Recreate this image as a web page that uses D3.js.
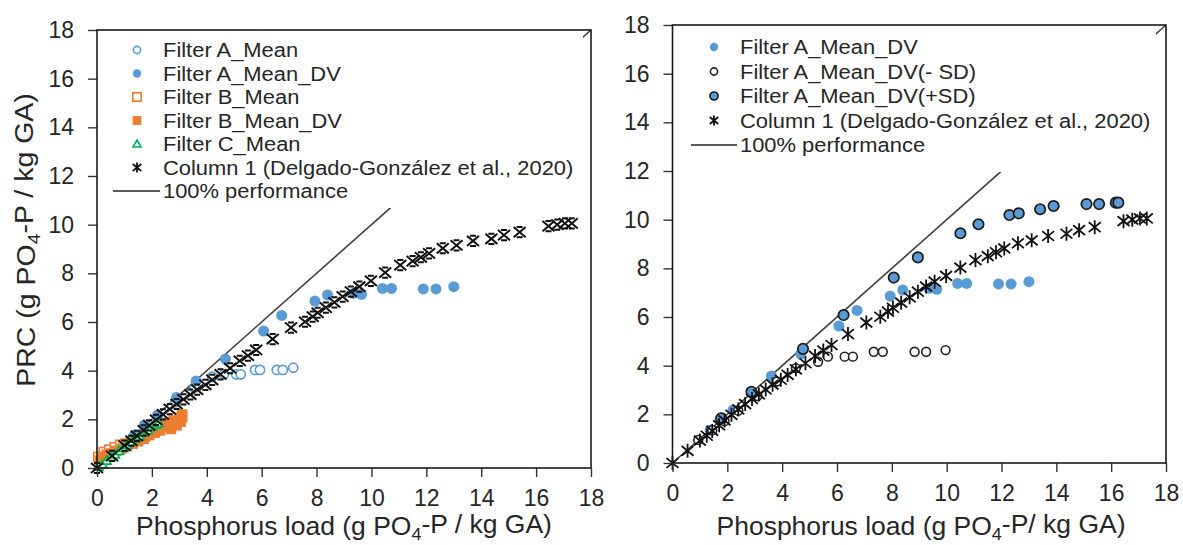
<!DOCTYPE html>
<html>
<head>
<meta charset="utf-8">
<style>
  body { margin: 0; background: #fff; }
  text { font-family: "Liberation Sans", Arial, sans-serif; fill: #262626; }
</style>
</head>
<body>
<div id="chart"></div>
<script src="https://d3js.org/d3.v7.min.js"></script>
<script>
// ---- data ----
const xTicks = [0, 2, 4, 6, 8, 10, 12, 14, 16, 18];
const yTicks = [0, 2, 4, 6, 8, 10, 12, 14, 16, 18];
const perfLine = [[0, 0], [18, 18]];

// Column 1 (Delgado-González et al., 2020), shared by both panels
const column1 = [[0,0],[0.55,0.5],[1.0,0.92],[1.25,1.12],[1.45,1.32],[1.7,1.55],[1.9,1.75],[2.15,1.98],
  [2.4,2.2],[2.65,2.42],[2.9,2.63],[3.15,2.82],[3.4,3.02],[3.65,3.22],[3.95,3.42],[4.2,3.62],
  [4.5,3.85],[4.85,4.1],[5.2,4.4],[5.5,4.62],[5.8,4.85],[6.4,5.3],[7.07,5.77],[7.58,6.01],
  [7.86,6.22],[8.04,6.38],[8.34,6.59],[8.65,6.81],[8.95,7.04],[9.25,7.25],[9.56,7.45],[9.98,7.69],
  [10.5,8.03],[11.05,8.34],[11.5,8.5],[11.8,8.66],[12.1,8.82],[12.6,9.03],[13.1,9.15],[13.7,9.33],
  [14.37,9.42],[14.83,9.57],[15.4,9.69],[16.45,9.94],[16.77,10.0],[17.05,10.05],[17.3,10.05]];

const filterAMean = [[1.3,1.25],[1.75,1.65],[2.2,2.05],[2.85,2.7],[3.55,3.3],[4.2,3.75],[4.63,3.85],
  [5.07,3.85],[5.24,3.85],[5.76,4.03],[5.94,4.03],[6.55,4.03],[6.77,4.03],[7.15,4.12]];

const filterAMeanDV = [[1.37,1.36],[1.73,1.77],[2.21,2.18],[2.9,2.9],[3.61,3.58],[4.68,4.48],[6.07,5.63],
  [6.73,6.27],[7.94,6.86],[8.4,7.11],[9.35,7.18],[9.64,7.14],[10.4,7.38],[10.73,7.38],[11.89,7.36],
  [12.35,7.36],[13.0,7.45]];

const filterBMean = [[0.05,0.45],[0.25,0.65],[0.45,0.75],[0.65,0.85],[0.85,0.95],[1.05,1.0],[1.25,1.1],
  [1.5,1.2],[1.75,1.3],[2.0,1.45],[2.2,1.55],[2.4,1.7],[2.6,1.8],[2.8,1.9],[3.0,2.0],[3.1,2.1]];

const filterBMeanDV = [[0.1,0.3],[0.2,0.45],[0.35,0.55],[0.5,0.6],[0.7,0.7],[0.9,0.8],[1.1,0.9],[1.3,1.0],
  [1.5,1.1],[1.7,1.2],[1.9,1.35],[2.1,1.45],[2.3,1.55],[2.4,1.7],[2.5,1.75],[2.6,1.85],[2.7,1.6],
  [2.8,1.95],[2.9,1.75],[3.0,2.05],[3.05,1.9],[3.1,2.2]];

const filterCMean = [[0.05,0.05],[0.2,0.15],[0.35,0.3],[0.5,0.45],[0.65,0.55],[0.8,0.7],[0.95,0.82],
  [1.1,0.95],[1.25,1.08],[1.4,1.2],[1.55,1.3],[1.7,1.45],[1.85,1.55],[2.0,1.68],[2.15,1.78],[2.25,1.85]];

const filterAMinusSD = [[0.94,0.95],[1.45,1.35],[1.9,1.72],[2.4,2.15],[3.1,2.75],[3.8,3.35],[4.5,3.9],
  [5.31,4.16],[5.67,4.37],[6.28,4.37],[6.58,4.37],[7.34,4.57],[7.67,4.57],[8.83,4.57],[9.25,4.57],[9.96,4.64]];

const filterAPlusSD = [[1.78,1.84],[2.88,2.93],[4.76,4.69],[6.24,6.08],[8.07,7.62],[8.95,8.45],
  [10.5,9.44],[11.16,9.81],[12.29,10.19],[12.63,10.26],[13.41,10.43],[13.9,10.56],[15.1,10.64],
  [15.56,10.64],[16.17,10.7],[16.26,10.7]];

const BLUE = "#5B9BD5", ORANGE = "#ED7D31", GREEN = "#00B050";

const svg = d3.select("#chart").append("svg")
  .attr("width", 1183).attr("height", 545);

// marker drawing helpers
function marker(g, kind, x, y, s) {
  if (kind === "openCircle") {
    g.append("circle").attr("cx", x).attr("cy", y).attr("r", s)
      .attr("fill", "#fff").attr("stroke", BLUE).attr("stroke-width", 1.6);
  } else if (kind === "blueDot") {
    g.append("circle").attr("cx", x).attr("cy", y).attr("r", s).attr("fill", BLUE);
  } else if (kind === "blackRing") {
    g.append("circle").attr("cx", x).attr("cy", y).attr("r", s)
      .attr("fill", "#fff").attr("stroke", "#222").attr("stroke-width", 1.6);
  } else if (kind === "plusSD") {
    g.append("circle").attr("cx", x).attr("cy", y).attr("r", s)
      .attr("fill", BLUE).attr("stroke", "#1a1a1a").attr("stroke-width", 1.7);
  } else if (kind === "openSquare") {
    g.append("rect").attr("x", x - s).attr("y", y - s).attr("width", 2 * s).attr("height", 2 * s)
      .attr("fill", "#fff").attr("stroke", ORANGE).attr("stroke-width", 1.6);
  } else if (kind === "fillSquare") {
    g.append("rect").attr("x", x - s).attr("y", y - s).attr("width", 2 * s).attr("height", 2 * s)
      .attr("fill", ORANGE);
  } else if (kind === "triangle") {
    g.append("path").attr("d", `M${x},${y - s}L${x + s},${y + s * 0.75}L${x - s},${y + s * 0.75}Z`)
      .attr("fill", "#fff").attr("stroke", GREEN).attr("stroke-width", 1.6);
  } else if (kind === "hourglass") {
    const w = s, h = s * 0.85;
    g.append("path")
      .attr("d", `M${x - w},${y - h}L${x + w},${y + h}M${x + w},${y - h}L${x - w},${y + h}` +
                 `M${x - w * 0.5},${y - h}L${x + w * 0.5},${y - h}M${x - w * 0.5},${y + h}L${x + w * 0.5},${y + h}`)
      .attr("stroke", "#111").attr("stroke-width", 2).attr("fill", "none");
  } else if (kind === "star") {
    const w = s * 0.85, h = s;
    g.append("path")
      .attr("d", `M${x - w},${y - h * 0.7}L${x + w},${y + h * 0.7}M${x + w},${y - h * 0.7}L${x - w},${y + h * 0.7}M${x},${y - h}L${x},${y + h}`)
      .attr("stroke", "#111").attr("stroke-width", 1.8).attr("fill", "none");
  }
}

function addParts(t, parts) {
  // parts: [[text, isSub], ...]
  let prevSub = false;
  parts.forEach(([s, sub]) => {
    const ts = t.append("tspan").text(s);
    if (sub) { ts.attr("font-size", "0.68em").attr("dy", "0.3em"); }
    else if (prevSub) { ts.attr("dy", "-0.3em"); }
    prevSub = sub;
  });
}

// text widened a little along its length, placed at (x, y)
function sText(g, x, y, size, widen, rotate) {
  const tr = rotate ? `translate(${x},${y}) rotate(-90) scale(${widen},1)`
                    : `translate(${x},${y}) scale(${widen},1)`;
  return g.append("text").attr("transform", tr).attr("font-size", size);
}

function panel(cfg) {
  const x = d3.scaleLinear().domain([0, 18]).range([cfg.x0, cfg.x1]);
  const y = d3.scaleLinear().domain([0, 18]).range([cfg.y0, cfg.y1]);
  const g = svg.append("g");

  // 100% performance line
  g.append("path").datum(perfLine)
    .attr("d", d3.line().x(d => x(d[0])).y(d => y(d[1])))
    .attr("stroke", "#404040").attr("stroke-width", 1.6).attr("fill", "none");

  // series
  cfg.series.forEach(s => {
    const sg = g.append("g");
    s.data.forEach(d => marker(sg, s.kind, x(d[0]), y(d[1]), s.size));
  });

  // legend (white box hides part of the line)
  const L = cfg.legend;
  g.append("rect").attr("x", L.x - 28).attr("y", y(18) + 3).attr("width", L.right - L.x + 28)
    .attr("height", L.bottom - y(18) - 3).attr("fill", "#fff");
  L.items.forEach((it, i) => {
    const cy = L.y + i * L.step;
    const lg = g.append("g");
    if (it.kind === "line") {
      lg.append("line").attr("x1", L.lineX1).attr("x2", L.tx - 3).attr("y1", cy).attr("y2", cy)
        .attr("stroke", "#262626").attr("stroke-width", 1.5);
    } else {
      marker(lg, it.kind, L.mx, cy, it.size);
    }
    sText(lg, L.tx, cy, 20.2, 1.085).attr("dy", "0.36em").text(it.label);
  });

  // axes
  const ax = g.append("g").attr("transform", `translate(0,${cfg.y0})`)
    .call(d3.axisBottom(x).tickValues(xTicks).tickSize(9).tickPadding(13).tickSizeOuter(0));
  const ay = g.append("g").attr("transform", `translate(${cfg.x0},0)`)
    .call(d3.axisLeft(y).tickValues(yTicks).tickSize(9).tickPadding(14).tickSizeOuter(0));
  [ax, ay].forEach(a => {
    a.select(".domain").remove();
    a.selectAll(".tick line").attr("stroke", "#333").attr("stroke-width", 1.4);
    a.selectAll(".tick text").attr("font-size", 23).attr("fill", "#262626")
      .style("font-family", '"Liberation Sans", Arial, sans-serif');
  });

  // frame
  g.append("rect").attr("x", cfg.x0).attr("y", cfg.y1).attr("width", cfg.x1 - cfg.x0)
    .attr("height", cfg.y0 - cfg.y1).attr("fill", "none").attr("stroke", "#1a1a1a").attr("stroke-width", 1.6);

  // x title
  const xt = sText(g, cfg.xTitleX, 535, 25, 1.06).attr("text-anchor", "middle");
  addParts(xt, cfg.xTitle);

  if (cfg.yTitle) {
    const yt = sText(g, 35, 240, 25, 1.14, true).attr("text-anchor", "middle");
    addParts(yt, cfg.yTitle);
  }
}

panel({
  x0: 97, x1: 591, y0: 468, y1: 30, xTitleX: 344,
  series: [
    { kind: "openCircle", data: filterAMean, size: 4.6 },
    { kind: "blueDot", data: filterAMeanDV, size: 5.5 },
    { kind: "openSquare", data: filterBMean, size: 4.6 },
    { kind: "fillSquare", data: filterBMeanDV, size: 5.2 },
    { kind: "triangle", data: filterCMean, size: 4.6 },
    { kind: "hourglass", data: column1, size: 6 }
  ],
  legend: {
    x: 137, mx: 137, tx: 163, lineX1: 113, y: 50, step: 23.5, right: 583, bottom: 208,
    items: [
      { kind: "openCircle", size: 3.6, label: "Filter A_Mean" },
      { kind: "blueDot", size: 4.2, label: "Filter A_Mean_DV" },
      { kind: "openSquare", size: 4.2, label: "Filter B_Mean" },
      { kind: "fillSquare", size: 4.4, label: "Filter B_Mean_DV" },
      { kind: "triangle", size: 4, label: "Filter C_Mean" },
      { kind: "star", size: 5, label: "Column 1 (Delgado-González et al., 2020)" },
      { kind: "line", label: "100% performance" }
    ]
  },
  xTitle: [["Phosphorus load (g PO", false], ["4", true], ["-P / kg GA)", false]],
  yTitle: [["PRC (g PO", false], ["4", true], ["-P / kg GA)", false]]
});

panel({
  x0: 672.5, x1: 1166, y0: 463, y1: 25, xTitleX: 921,
  series: [
    { kind: "blueDot", data: filterAMeanDV, size: 5.5 },
    { kind: "blackRing", data: filterAMinusSD, size: 4.4 },
    { kind: "plusSD", data: filterAPlusSD, size: 5.2 },
    { kind: "star", data: column1, size: 7 }
  ],
  legend: {
    x: 714, mx: 714, tx: 740, lineX1: 691, y: 47, step: 24.5, right: 1156, bottom: 172,
    items: [
      { kind: "blueDot", size: 4.2, label: "Filter A_Mean_DV" },
      { kind: "blackRing", size: 3.6, label: "Filter A_Mean_DV(- SD)" },
      { kind: "plusSD", size: 4, label: "Filter A_Mean_DV(+SD)" },
      { kind: "star", size: 5, label: "Column 1 (Delgado-González et al., 2020)" },
      { kind: "line", label: "100% performance" }
    ]
  },
  xTitle: [["Phosphorus load (g PO", false], ["4", true], ["-P/ kg GA)", false]]
});
</script>
</body>
</html>
